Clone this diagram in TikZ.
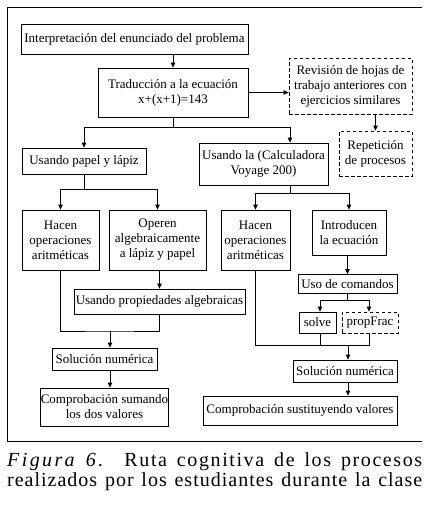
\documentclass[tikz,border=0pt]{standalone}
\usepackage{fontspec}
\setmainfont{Liberation Serif}
\usetikzlibrary{arrows.meta,positioning,calc}

\tikzset{
  box/.style={draw,line width=0.8pt,inner sep=0pt,align=center,font=\fontsize{13}{15}\selectfont},
  dbox/.style={box,dash pattern=on 3.5pt off 2.5pt},
  arr/.style={line width=0.8pt,-{Triangle[length=5pt,width=4.5pt]}},
  ln/.style={line width=0.8pt},
  captext/.style={anchor=base west,inner sep=0pt,font=\fontsize{20}{20}\selectfont}
}

\begin{document}
\begin{tikzpicture}[x=1pt,y=-1pt]
  \useasboundingbox (0,0) rectangle (432,509);
  % frame
  \draw[ln] (422,7) -- (7,7) -- (7,441.5) -- (422,441.5);

  % top
  \node[box,minimum width=227pt,minimum height=30pt] (interp) at (134.5,39) {Interpretación del enunciado del problema};
  \node[box,minimum width=150pt,minimum height=49pt] (trad) at (173,92.5) {Traducción a la ecuación\\x+(x+1)=143};
  \node[dbox,minimum width=123pt,minimum height=56pt] (revis) at (350.5,86) {Revisión de hojas de\\trabajo anteriores con\\ejercicios similares};
  \node[dbox,minimum width=73pt,minimum height=45pt] (repet) at (375.5,153.5) {Repetición\\de procesos};

  % two routes
  \node[box,minimum width=124pt,minimum height=26pt] (papel) at (84,161) {Usando papel y lápiz};
  \node[box,minimum width=129pt,minimum height=42pt] (calc) at (263.5,164) {Usando la (Calculadora\\Voyage 200)};

  % left route
  \node[box,minimum width=77pt,minimum height=60pt] (hacenL) at (60.5,240) {Hacen\\operaciones\\aritméticas};
  \node[box,minimum width=97pt,minimum height=60pt] (operen) at (157.5,240) {Operen\\algebraicamente\\a lápiz y papel};
  \node[box,minimum width=171pt,minimum height=25pt] (propied) at (159.5,301.5) {Usando propiedades algebraicas};
  \node[box,minimum width=105pt,minimum height=22pt] (solL) at (104.5,359) {Solución numérica};
  \node[box,minimum width=127pt,minimum height=38pt] (compL) at (104.5,407) {Comprobación sumando\\los dos valores};

  % right route
  \node[box,minimum width=69pt,minimum height=60pt] (hacenR) at (255.5,240) {Hacen\\operaciones\\aritméticas};
  \node[box,minimum width=74pt,minimum height=45pt] (intro) at (349,232.5) {Introducen\\la ecuación};
  \node[box,minimum width=99pt,minimum height=19pt] (comandos) at (347.5,284) {Uso de comandos};
  \node[box,minimum width=37pt,minimum height=21pt] (solve) at (317.5,322.5) {solve};
  \node[dbox,minimum width=56pt,minimum height=21pt] (propfrac) at (370,322.5) {propFrac};
  \node[box,minimum width=104pt,minimum height=22pt] (solR) at (345,371) {Solución numérica};
  \node[box,minimum width=194pt,minimum height=29pt] (compR) at (300,410.5) {Comprobación sustituyendo valores};

  % connectors
  \draw[arr] (interp.south -| trad) -- (trad.north);
  \draw[arr] (trad.east) -- (revis.west |- trad.east);
  \draw[arr] (repet.north |- revis.south) -- (repet.north);

  \coordinate (j1) at (173,127);
  \draw[ln] (trad.south) -- (j1);
  \draw[arr] (j1) -| (papel.north);
  \coordinate (cdown) at (290,0);
  \draw[arr] (j1) -| (cdown |- calc.north);

  \coordinate (j2) at (84,189);
  \draw[ln] (papel.south) -- (j2);
  \draw[arr] (j2) -| (hacenL.north);
  \draw[arr] (j2) -| (operen.north);
  \draw[arr] (operen.south -| propied) -- (propied.north);

  \coordinate (j3) at (290,193);
  \draw[ln] (cdown |- calc.south) -- (j3);
  \draw[arr] (j3) -| (hacenR.north);
  \draw[arr] (j3) -| (intro.north);
  \draw[arr] (intro.south -| comandos) -- (comandos.north);

  \coordinate (j4) at (347.5,300.7);
  \draw[ln] (comandos.south) -- (j4);
  \draw[arr] (j4) -| ([xshift=2.5pt]solve.north);
  \draw[arr] (j4) -| ([xshift=-1pt]propfrac.north);

  % joining lines
  \coordinate (j5) at (110,331);
  \draw[ln] (hacenL.south) |- (j5) -| (propied.south);
  \draw[arr] (j5) -- (j5 |- solL.north);
  \draw[arr] (j5 |- solL.south) -- (j5 |- compL.north);

  \coordinate (j6) at (348,345);
  \draw[ln] (hacenR.south) |- ([xshift=-1pt]propfrac.south |- j6) -- ([xshift=-1pt]propfrac.south);
  \draw[ln] ([xshift=2.5pt]solve.south) -- ([xshift=2.5pt]solve.south |- j6);
  \draw[arr] (j6) -- (j6 |- solR.north);
  \draw[arr] (j6 |- solR.south) -- (j6 |- compR.north);

  % caption
  \node[captext] (cap1) at (7,466)
    {\addfontfeatures{LetterSpace=8}\makebox[415pt][s]{\textit{\addfontfeatures{LetterSpace=12}Figura 6.} Ruta cognitiva de los procesos}};
  \node[captext] (cap2) at (7,486)
    {\addfontfeatures{LetterSpace=5}\makebox[415pt][s]{realizados por los estudiantes durante la clase}};
\end{tikzpicture}
\end{document}
